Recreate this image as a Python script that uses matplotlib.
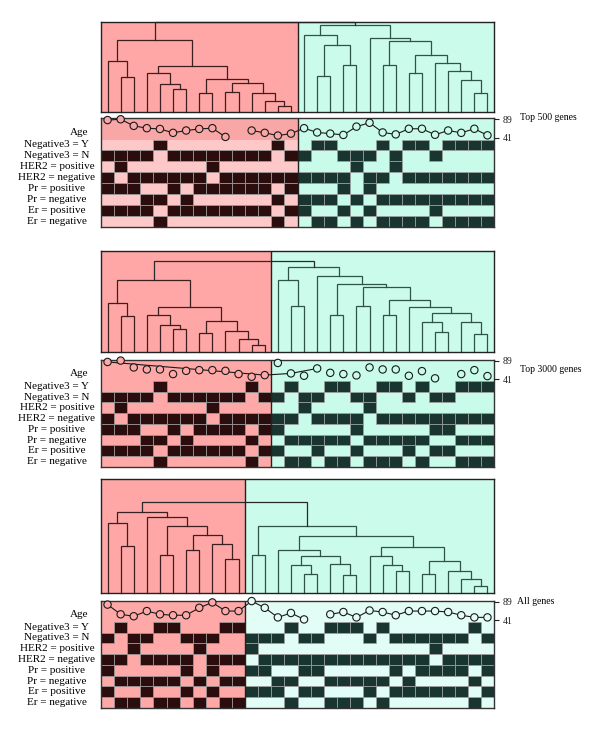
import numpy as np
import matplotlib
matplotlib.use('Agg')
import matplotlib.pyplot as plt
from matplotlib.transforms import blended_transform_factory

plt.rcParams['font.family'] = ['Liberation Serif', 'DejaVu Serif']

# ---------------- data ----------------
panel_titles = ['Top 500 genes', 'Top 3000 genes', 'All genes']
row_labels = ['Negative3 = Y', 'Negative3 = N', 'HER2 = positive', 'HER2 = negative',
              'Pr = positive', 'Pr = negative', 'Er = positive', 'Er = negative']
age_ticks = [41, 89]
n_samples = 30
n_pink = [15, 13, 11]          # size of first (pink) cluster in each panel

# "positive" member of each pair (the row below it is the complement)
neg3_y = ['000010000000010' + '011000101101111',
          '0000100000010' + '01001100110100111',
          '01001100011' + '0001001110100000010']
her2_pos = ['010000001000000' + '000010010000000',
            '0100000010000' + '00100001000000000',
            '00100001000' + '1000000000000010000']
pr_pos = ['111001011111101' + '000101000000000',
          '1110010111101' + '10000010000011000',
          '10000010100' + '1100110000010111101']
er_pos = ['111101111111101' + '100101000010000',
          '1111011111101' + '10010010001011000',
          '10010010100' + '1110110001011111101']

nan = np.nan
age_1 = [87, 89, 72, 66, 64, 54, 60, 64, 66, 43.5, nan, 60, 54, 47, 52,
         66, 55, 52, 48.6, 70, 80, 55, 50, 64.5, 64.5, 49, 60, 54, 64.5, 47.6]
age_2 = [86.4, 90, 72, 66.8, 66.8, 54.7, 63.2, 65, 65, 63.2, 54.7, 47.7, 52,
         83.8, 56.5, 50.3, 69.4, 58, 54.7, 51.3, 72, 66.8, 66.8, 50.3, 62.4, 43.6, nan, 54.7, 65, 49.5]
age_3 = [81.4, 56, 51, 64.5, 56, 53.6, 53.6, 73, 87, 64.5, 64.5,
         90.5, 73, 48, 59.5, 42.7, nan, 56, 62, 48, 66, 62, 53.6, 64.5, 64.5, 64.5, 62, 53.6, 48, 48]
ages = [age_1, age_2, age_3]
# samples the age trace runs through (None: all of them, broken where missing)
age_line_cols = [None, [0, 12, 14, 16], None]

# dendrograms: leaf = sample index, node = (left, right, merge height)
pink_1 = ((0, (1, 2, 35), 51),
          ((3, (4, (5, 6, 23), 28), 39),
           ((7, 8, 19), ((9, 10, 20), (11, (12, (13, 14, 6), 11), 19), 29), 33), 46), 72)
cyan_1 = ((15, ((16, 17, 36), (18, 19, 47), 67), 77),
          (20, ((21, 22, 47), ((23, 24, 39), (25, (26, (27, (28, 29, 19), 32), 41), 49), 57), 71), 74), 87)
pink_2 = ((0, (1, 2, 36), 49),
          ((3, (4, (5, 6, 23), 27), 37), ((7, 8, 19), (9, (10, (11, 12, 7), 13), 21), 31), 45), 72)
cyan_2 = ((13, (14, 15, 46), 72),
          (16, ((17, 18, 37), ((19, 20, 46), ((21, 22, 37),
                (23, ((24, (25, 26, 20), 30), (27, (28, 29, 18), 30), 39), 45), 52), 65), 68), 76), 85)
pink_3 = ((0, (1, 2, 47), 70),
          (3, ((4, 5, 38), ((6, 7, 43), (8, (9, 10, 34), 49), 58), 67), 76), 81)
cyan_3 = ((11, 12, 38),
          ((13, ((14, (15, 16, 19), 28), (17, (18, 19, 18), 29), 37), 43),
           ((20, (21, (22, 23, 22), 28), 37), ((24, 25, 19), (26, (27, (28, 29, 7), 14), 22), 32), 46), 57), 67)
trees = [(pink_1, cyan_1, 90), (pink_2, cyan_2, 91), (pink_3, cyan_3, 91)]

# ---------------- layout / style ----------------
W, H = 600, 730
X0, X1 = 101, 494
dend_px = [(22.3, 111.7), (250.7, 351.7), (479, 593.3)]
heat_px = [(118.3, 226.7), (360, 467), (600.7, 708)]
title_px = [(520, 117.5), (520, 369), (517, 601)]
AGE_ROWS = 1.95

pink_dend, cyan_dend = '#ffa6a6', '#cbfbeb'
heat_pink = ['#ffc8c8', '#ffa8a8', '#ffa8a8']
heat_pink_age = ['#f9a6a6', '#ffa8a8', '#ffa8a8']
heat_cyan = ['#c8fbea', '#c8fbea', '#e2fdf5']
cell_pink, cell_cyan = '#2b0d0d', '#183530'
line_pink, line_cyan = '#3d1f1f', '#2f5249'

fig = plt.figure(figsize=(6, 7.3), dpi=100)


def px_axes(y_top, y_bot):
    return fig.add_axes([X0 / W, 1 - y_bot / H, (X1 - X0) / W, (y_bot - y_top) / H])


def draw_tree(ax, node, split):
    if not isinstance(node, tuple):
        return node + 0.5, 0.0
    left, right, h = node
    xl, hl = draw_tree(ax, left, split)
    xr, hr = draw_tree(ax, right, split)
    if xr <= split:
        c = line_pink
    elif xl >= split:
        c = line_cyan
    else:
        c = '#2a2a2a'
    ax.plot([xl, xl, xr, xr], [hl, h, h, hr], color=c, lw=0.9, clip_on=False,
            solid_joinstyle='miter', zorder=3)
    return (xl + xr) / 2, h


for p in range(3):
    k = n_pink[p]

    # dendrogram
    yt, yb = dend_px[p]
    ad = px_axes(yt, yb)
    ad.set_xlim(0, n_samples)
    ad.set_ylim(0, yb - yt)
    ad.axvspan(0, k, color=pink_dend, lw=0)
    ad.axvspan(k, n_samples, color=cyan_dend, lw=0)
    ad.axvline(k, color='#222222', lw=1.0, zorder=4)
    draw_tree(ad, trees[p], k)
    ad.set_xticks([])
    ad.set_yticks([])
    for s in ad.spines.values():
        s.set_color('#222222')
        s.set_linewidth(1.0)
        s.set_zorder(5)

    # heatmap
    yt, yb = heat_px[p]
    ah = px_axes(yt, yb)
    top = 8 + AGE_ROWS
    ah.set_xlim(0, n_samples)
    ah.set_ylim(0, top)
    ah.axvspan(0, k, ymin=0, ymax=8 / top, color=heat_pink[p], lw=0)
    ah.axvspan(0, k, ymin=8 / top, ymax=1, color=heat_pink_age[p], lw=0)
    ah.axvspan(k, n_samples, color=heat_cyan[p], lw=0)
    rows = []
    for s in [neg3_y[p], her2_pos[p], pr_pos[p], er_pos[p]]:
        v = np.array([int(ch) for ch in s])
        rows += [v, 1 - v]
    for r, v in enumerate(rows):
        cols = np.flatnonzero(v)
        colors = [cell_pink if c < k else cell_cyan for c in cols]
        ah.bar(cols, 1, width=1, bottom=7 - r, align='edge', color=colors,
               edgecolor='#a3a3a3', linewidth=0.5, zorder=2)
    ah.axvline(k, color='#222222', lw=1.0, zorder=4)
    ah.set_xticks([])
    ah.set_yticks([])
    for s in ah.spines.values():
        s.set_color('#333333')
        s.set_linewidth(1.0)
        s.set_zorder(5)

    tr = blended_transform_factory(ah.transAxes, ah.transData)
    for r, lab in enumerate(row_labels):
        ah.text(-0.112, 7.5 - r, lab, transform=tr, ha='center', va='center',
                fontsize=8)
    ah.text(-0.031, 8.65, 'Age', transform=tr, ha='right', va='center', fontsize=8)

    # age trace
    row_h = (yb - yt) / top
    aa = fig.add_axes([X0 / W, 1 - (yt + AGE_ROWS * row_h) / H, (X1 - X0) / W,
                       AGE_ROWS * row_h / H])
    aa.patch.set_visible(False)
    aa.set_xlim(0, n_samples)
    aa.set_ylim(36.7, 91.5)
    for s in aa.spines.values():
        s.set_visible(False)
    aa.set_xticks([])
    aa.yaxis.tick_right()
    aa.set_yticks(age_ticks)
    aa.tick_params(axis='y', length=3.5, width=0.8, pad=3, labelsize=7, colors='#222222')
    a = np.array(ages[p], dtype=float)
    x = np.arange(n_samples) + 0.5
    if age_line_cols[p] is None:
        aa.plot(x, a, color='#1a1a1a', lw=0.8, clip_on=False, zorder=2)
    else:
        lc = np.array(age_line_cols[p])
        aa.plot(x[lc], a[lc], color='#1a1a1a', lw=0.8, clip_on=False, zorder=2)
    face = [heat_pink_age[p] if i < k else heat_cyan[p] for i in range(n_samples)]
    aa.scatter(x, a, s=28, facecolors=face, edgecolors='#1a1a1a', linewidths=0.8,
               clip_on=False, zorder=3)

    tx, ty = title_px[p]
    fig.text(tx / W, 1 - ty / H, panel_titles[p], fontsize=7, va='center', ha='left')

fig.savefig('out.png', dpi=100, facecolor='white')
